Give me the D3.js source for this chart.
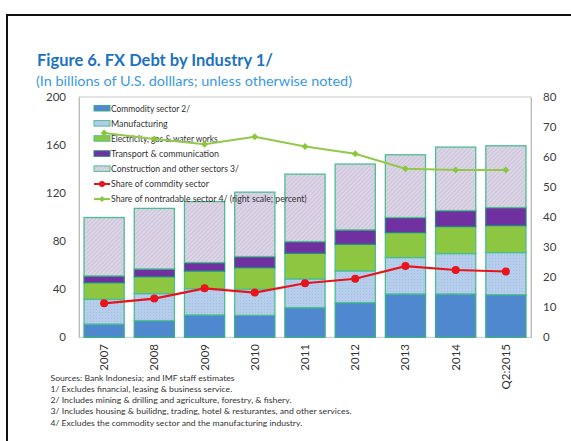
<!DOCTYPE html>
<html><head><meta charset="utf-8">
<script src="https://cdn.jsdelivr.net/npm/d3@7"></script>
<style>body{margin:0;background:#fff}svg{display:block}</style></head>
<body><svg id="c" width="571" height="441"></svg>
<script>
const categories=["2007","2008","2009","2010","2011","2012","2013","2014","Q2:2015"];
const commodity=[11,13.9,18.6,18.3,24.7,28.9,36.1,36.1,35.5];
const manufacturing=[20.7,22.5,21.9,21.7,23.9,26.4,30.3,33.6,35.0];
const electricity=[13.8,14.1,14.7,18.0,21.4,22.2,20.8,22.5,22.5];
const transport=[5.6,6.4,7.0,9.2,9.7,11.9,12.5,13.3,15.0];
const construction=[48.6,50.4,50.8,53.6,56.1,54.8,52.2,52.8,51.4];
const shareCommodity=[11.3,12.9,16.3,14.9,18.0,19.5,23.7,22.4,21.9];
const shareNontradable=[68,66,64.3,66.8,63.5,61.1,56.1,55.7,55.7];
const leftTicks=[0,40,80,120,160,200];
const rightTicks=[0,10,20,30,40,50,60,70,80];
const seriesNames=["Commodity sector 2/","Manufacturing","Electricity, gas & water works","Transport & communication","Construction and other sectors 3/"];
const lineNames=["Share of commdity sector","Share of nontradable sector 4/ (right scale; percent)"];
const footnotes=["Sources: Bank Indonesia; and IMF staff estimates",
"1/ Excludes financial, leasing & business service.",
"2/ Includes mining & drilling and agriculture, forestry, & fishery.",
"3/ Includes housing & builidng, trading, hotel & resturantes, and other services.",
"4/ Excludes the commodity sector and the manufacturing industry."];

const svg=d3.select("#c");
const FONT="Lato, 'Liberation Sans', sans-serif";
const L=79,R=531,T=97,B=337.3;

// frame
svg.append("path").attr("d","M7,445 V15 H575").attr("fill","none").attr("stroke","#111").attr("stroke-width",2);

// patterns
const defs=svg.append("defs");
const p1=defs.append("pattern").attr("id","dots").attr("width",3).attr("height",3).attr("patternUnits","userSpaceOnUse");
p1.append("rect").attr("width",3).attr("height",3).attr("fill","#b6cdec");
p1.append("rect").attr("x",0).attr("y",0).attr("width",1).attr("height",1).attr("fill","#a2bfe6");
const p2=defs.append("pattern").attr("id","hatch").attr("width",3).attr("height",3).attr("patternUnits","userSpaceOnUse").attr("patternTransform","rotate(45)");
p2.append("rect").attr("width",3).attr("height",3).attr("fill","#dcd5e6");
p2.append("rect").attr("width",1).attr("height",3).attr("fill","#cdc3db");

const fills=["#4f88cf","url(#dots)","#8dc641","#7030a0","url(#hatch)"];
const strokes=["#3aae8c","#4cbf90","#4cbf90","#2a7f86","#4cbf90"];

// title
svg.append("text").attr("x",37).attr("y",66).attr("font-family",FONT).attr("font-weight","bold")
 .attr("font-size",17).attr("fill","#1d72c0").attr("textLength",236).attr("lengthAdjust","spacingAndGlyphs")
 .text("Figure 6. FX Debt by Industry 1/");
svg.append("text").attr("x",36).attr("y",86).attr("font-family",FONT)
 .attr("font-size",13.5).attr("fill","#3b9ae0").attr("textLength",316).attr("lengthAdjust","spacingAndGlyphs")
 .text("(In billions of U.S. dolllars; unless otherwise noted)");

const x=d3.scaleBand().domain(categories).range([L,R]).paddingInner(0.18).paddingOuter(0.09);
const y=d3.scaleLinear().domain([0,200]).range([B,T]);
const y2=d3.scaleLinear().domain([0,80]).range([B,T]);

// plot border
svg.append("rect").attr("x",L).attr("y",T).attr("width",R-L).attr("height",B-T).attr("fill","none").attr("stroke","#c8c8c8");

// axes
const ax=svg.append("g").attr("transform",`translate(${L},0)`).call(d3.axisLeft(y).tickValues(leftTicks).tickSize(0).tickPadding(13));
const ax2=svg.append("g").attr("transform",`translate(${R},0)`).call(d3.axisRight(y2).tickValues(rightTicks).tickSize(0).tickPadding(12));
[ax,ax2].forEach(a=>{a.select(".domain").attr("stroke","#bdbdbd");a.selectAll("text").attr("font-family",FONT).attr("font-size",11.5).attr("fill","#404040");});

const legend=svg.append("g");
const legendW=[79,56.7,106.7,108,128,98,195.7];
const rowY=i=>108.5+i*15.1;

// stacked bars
const rows=categories.map((c,i)=>({cat:c,commodity:commodity[i],manufacturing:manufacturing[i],electricity:electricity[i],transport:transport[i],construction:construction[i]}));
const keys=["commodity","manufacturing","electricity","transport","construction"];
const stack=d3.stack().keys(keys)(rows);
const gb=svg.append("g");
stack.forEach((s,k)=>{
  gb.selectAll(null).data(s).enter().append("rect")
   .attr("x",d=>x(d.data.cat)+0.5).attr("width",x.bandwidth()-1)
   .attr("y",d=>y(d[1])).attr("height",d=>y(d[0])-y(d[1]))
   .attr("fill",fills[k]).attr("stroke",strokes[k]).attr("stroke-width",1.3);
});

// legend items
seriesNames.forEach((n,i)=>{
  legend.append("rect").attr("x",94).attr("y",rowY(i)-3).attr("width",16).attr("height",5.5)
   .attr("fill",fills[i]).attr("stroke",strokes[i]).attr("stroke-width",1);
});
legend.append("line").attr("x1",94).attr("x2",110).attr("y1",rowY(5)).attr("y2",rowY(5)).attr("stroke","#e8141c").attr("stroke-width",2);
legend.append("circle").attr("cx",102).attr("cy",rowY(5)).attr("r",3).attr("fill","#e8141c");
legend.append("line").attr("x1",94).attr("x2",110).attr("y1",rowY(6)).attr("y2",rowY(6)).attr("stroke","#8cc63f").attr("stroke-width",2);
legend.append("path").attr("d",`M102,${rowY(6)-3}l3,3l-3,3l-3,-3z`).attr("fill","#8cc63f");
seriesNames.concat(lineNames).forEach((n,i)=>{
  legend.append("text").attr("x",111).attr("y",rowY(i)+3).attr("font-family",FONT).attr("font-size",9.3)
   .attr("fill","#333").attr("textLength",legendW[i]).attr("lengthAdjust","spacingAndGlyphs").text(n);
});
svg.node().appendChild(legend.node());

// lines
const cx=c=>x(c)+x.bandwidth()/2;
const gl=svg.append("g");
gl.append("path").datum(shareNontradable).attr("fill","none").attr("stroke","#92c94a").attr("stroke-width",2)
 .attr("d",d3.line().x((d,i)=>cx(categories[i])).y(d=>y2(d)));
gl.selectAll(null).data(shareNontradable).enter().append("path")
 .attr("d",(d,i)=>`M${cx(categories[i])},${y2(d)-3.5}l3.5,3.5l-3.5,3.5l-3.5,-3.5z`).attr("fill","#8cc63f");
gl.append("path").datum(shareCommodity).attr("fill","none").attr("stroke","#e8141c").attr("stroke-width",2.2)
 .attr("d",d3.line().x((d,i)=>cx(categories[i])).y(d=>y2(d)));
gl.selectAll(null).data(shareCommodity).enter().append("circle")
 .attr("cx",(d,i)=>cx(categories[i])).attr("cy",d=>y2(d)).attr("r",4).attr("fill","#e8141c");

// x labels
svg.append("g").selectAll("text").data(categories).enter().append("text")
 .attr("transform",d=>`translate(${cx(d)},344) rotate(-90)`).attr("text-anchor","end").attr("dy","0.35em")
 .attr("font-family",FONT).attr("font-size",11.5).attr("fill","#333").text(d=>d);

// footnotes
const fnW=[184,181.7,241,301,251.7];
svg.append("g").selectAll("text").data(footnotes).enter().append("text")
 .attr("x",50.5).attr("y",(d,i)=>380.5+i*11.25).attr("font-family",FONT).attr("font-size",8.3).attr("fill","#333")
 .attr("textLength",(d,i)=>fnW[i]).attr("lengthAdjust","spacingAndGlyphs").text(d=>d);
</script></body></html>
